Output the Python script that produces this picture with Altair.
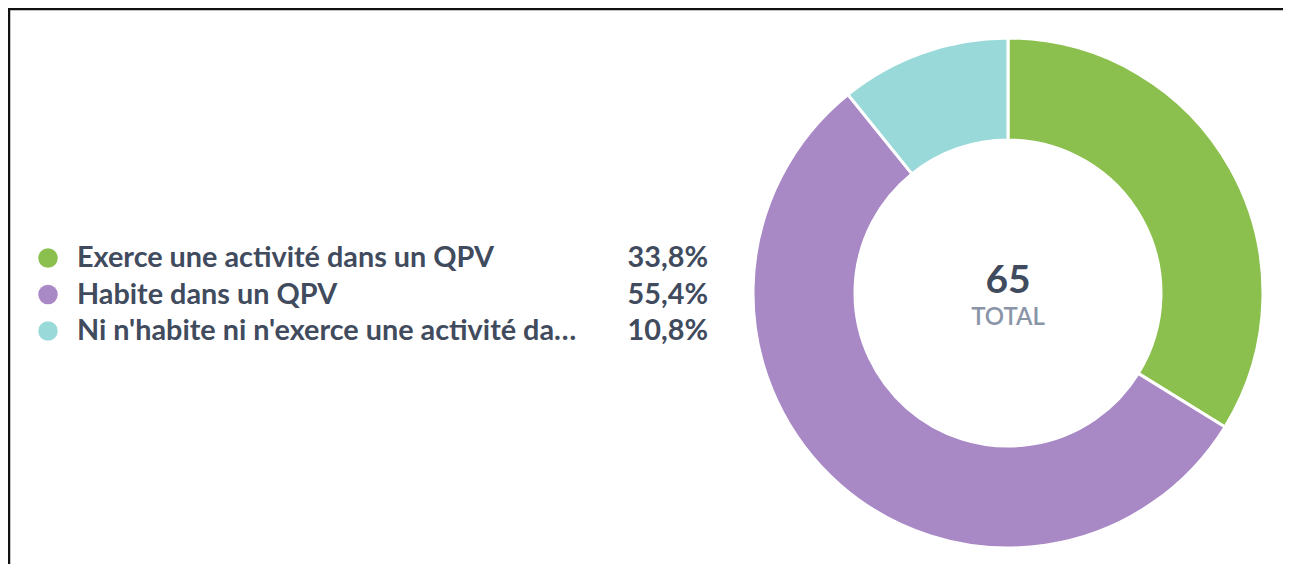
import altair as alt
import pandas as pd

categories = [
    "Exerce une activité dans un QPV",
    "Habite dans un QPV",
    "Ni n'habite ni n'exerce une activité da…",
]
values = [33.8, 55.4, 10.8]
pct_labels = ["33,8%", "55,4%", "10,8%"]
colors = ["#8BC04E", "#A888C5", "#9AD9D9"]
total_value = "65"
total_label = "TOTAL"

df = pd.DataFrame({
    "cat": categories,
    "val": values,
    "pct": pct_labels,
    "order": list(range(len(categories))),
})

W, H = 1275, 556
CX, CY = 1000, 285

color_scale = alt.Scale(domain=categories, range=colors)
y_scale = alt.Scale(type="point", domain=categories, range=[250, 323], padding=0)

base = alt.Chart(df)

donut = base.mark_arc(innerRadius=153, outerRadius=255, stroke="white", strokeWidth=3).encode(
    theta=alt.Theta("val:Q", stack=True),
    order=alt.Order("order:O"),
    color=alt.Color("cat:N", scale=color_scale, legend=None),
    x=alt.value(CX),
    y=alt.value(CY),
)

dots = base.mark_circle(size=380, opacity=1).encode(
    x=alt.value(40),
    y=alt.Y("cat:N", scale=y_scale, axis=None),
    color=alt.Color("cat:N", scale=color_scale, legend=None),
)

labels = base.mark_text(
    align="left", baseline="middle", font="Lato", fontSize=28.8, fontWeight="bold", color="#414B5E"
).encode(
    x=alt.value(69),
    y=alt.Y("cat:N", scale=y_scale, axis=None),
    text="cat:N",
)

pcts = base.mark_text(
    align="right", baseline="middle", font="Lato", fontSize=28.8, fontWeight="bold", color="#414B5E"
).encode(
    x=alt.value(700),
    y=alt.Y("cat:N", scale=y_scale, axis=None),
    text="pct:N",
)

center_df = pd.DataFrame({"t": [total_value]})
center_num = alt.Chart(center_df).mark_text(
    align="center", baseline="middle", font="Lato", fontSize=39, fontWeight="bold", color="#414B5E"
).encode(x=alt.value(CX), y=alt.value(CY - 12), text="t:N")

center_lbl_df = pd.DataFrame({"t": [total_label]})
center_lbl = alt.Chart(center_lbl_df).mark_text(
    align="center", baseline="middle", font="Lato", fontSize=24, fontWeight=600, color="#8A95A8"
).encode(x=alt.value(CX), y=alt.value(CY + 25), text="t:N")

frame_top = alt.Chart(pd.DataFrame({"a": [0]})).mark_rule(color="#111111", strokeWidth=2.5).encode(
    x=alt.value(0), x2=alt.value(W), y=alt.value(1)
)
frame_left = alt.Chart(pd.DataFrame({"a": [0]})).mark_rule(color="#111111", strokeWidth=2.5).encode(
    x=alt.value(1), y=alt.value(0), y2=alt.value(H)
)

chart = alt.layer(
    frame_top, frame_left, donut, dots, labels, pcts, center_num, center_lbl
).properties(
    width=W, height=H, padding=0, autosize=alt.AutoSizeParams(type="none")
).configure_view(stroke=None)

chart.save("out.html", embed_options={"renderer": "svg", "actions": False})
